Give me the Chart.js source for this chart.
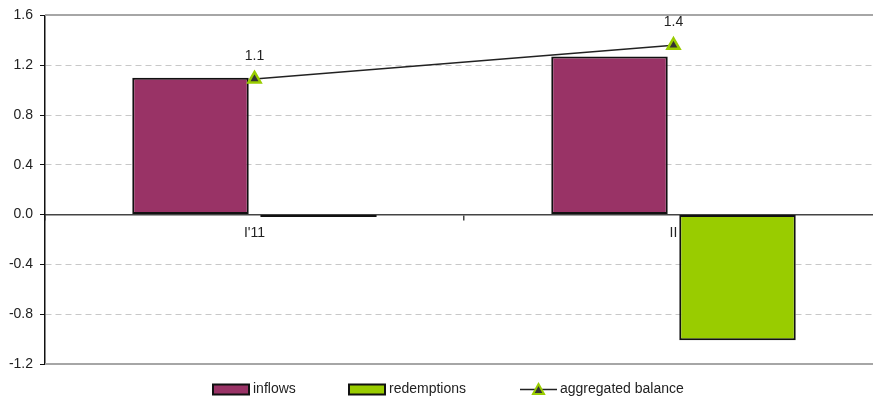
<!DOCTYPE html>
<html>
<head>
<meta charset="utf-8">
<script src="https://cdn.jsdelivr.net/npm/chart.js@4/dist/chart.umd.min.js"></script>
<style>
  html, body { margin: 0; padding: 0; background: #fff; overflow: hidden; }
  #wrap { position: relative; width: 873px; height: 403px; overflow: hidden; }
  #c { display: block; }
</style>
</head>
<body>
<div id="wrap"><canvas id="c" width="884" height="403"></canvas></div>
<script>
// Quarterly fund flows, billions
const categories = ["I'11", "II"];
const inflows = [1.10, 1.27];
const redemptions = [-0.02, -1.01];
const aggregatedBalance = [1.09, 1.36];
const yTicks = [1.6, 1.2, 0.8, 0.4, 0.0, -0.4, -0.8, -1.2];

const FONT = '"Liberation Sans", Arial, sans-serif';
const FONT_SIZE = 14;
const TEXT = '#222';
const INFLOW_COLOR = '#993366';
const REDEMPTION_COLOR = '#99CC00';

// Solid frame lines at the top and bottom of the value range
const frameLines = {
  id: 'frameLines',
  beforeDatasetsDraw(chart) {
    const { ctx, chartArea, scales } = chart;
    const y = scales.y;
    ctx.save();
    ctx.strokeStyle = '#a6a6a6';
    ctx.lineWidth = 2;
    [y.max, y.min].forEach(v => {
      const py = Math.round(y.getPixelForValue(v));
      ctx.beginPath();
      ctx.moveTo(chartArea.left, py);
      ctx.lineTo(chartArea.right, py);
      ctx.stroke();
    });
    ctx.restore();
  }
};

// Value labels above the balance markers
const balanceLabels = {
  id: 'balanceLabels',
  afterDatasetsDraw(chart) {
    const { ctx } = chart;
    const idx = chart.data.datasets.findIndex(d => d.type === 'line');
    const meta = chart.getDatasetMeta(idx);
    ctx.save();
    ctx.font = FONT_SIZE + 'px ' + FONT;
    ctx.fillStyle = TEXT;
    ctx.textAlign = 'center';
    ctx.textBaseline = 'middle';
    meta.data.forEach((pt, i) => {
      ctx.fillText(aggregatedBalance[i].toFixed(1), pt.x, pt.y - 23);
    });
    ctx.restore();
  }
};

// Legend row under the plot
const bottomLegend = {
  id: 'bottomLegend',
  afterDraw(chart) {
    const { ctx } = chart;
    const ds = chart.data.datasets;
    const cy = 389.5;
    const items = [
      { ds: ds.find(d => d.label === 'inflows'), x: 213, kind: 'box' },
      { ds: ds.find(d => d.label === 'redemptions'), x: 349, kind: 'box' },
      { ds: ds.find(d => d.label === 'aggregated balance'), x: 520, kind: 'line' }
    ];
    ctx.save();
    ctx.font = FONT_SIZE + 'px ' + FONT;
    ctx.textBaseline = 'middle';
    ctx.textAlign = 'left';
    items.forEach(it => {
      if (it.kind === 'box') {
        ctx.fillStyle = it.ds.backgroundColor;
        ctx.fillRect(it.x, cy - 5, 36, 10);
        ctx.strokeStyle = '#111';
        ctx.lineWidth = 2;
        ctx.strokeRect(it.x, cy - 5, 36, 10);
      } else {
        ctx.strokeStyle = it.ds.borderColor;
        ctx.lineWidth = 1.5;
        ctx.beginPath();
        ctx.moveTo(it.x, cy);
        ctx.lineTo(it.x + 37, cy);
        ctx.stroke();
        const mx = it.x + 18.5, r = 5.5;
        ctx.beginPath();
        ctx.moveTo(mx, cy - r);
        ctx.lineTo(mx + r, cy + r * 0.8);
        ctx.lineTo(mx - r, cy + r * 0.8);
        ctx.closePath();
        ctx.fillStyle = it.ds.pointBackgroundColor;
        ctx.fill();
        ctx.strokeStyle = it.ds.pointBorderColor;
        ctx.lineWidth = 2;
        ctx.stroke();
      }
      ctx.fillStyle = TEXT;
      ctx.fillText(it.ds.label, it.x + 40, cy);
    });
    ctx.restore();
  }
};

new Chart(document.getElementById('c'), {
  type: 'bar',
  data: {
    labels: categories,
    datasets: [
      {
        type: 'line',
        label: 'aggregated balance',
        data: aggregatedBalance,
        borderColor: '#222',
        borderWidth: 1.5,
        pointStyle: 'triangle',
        pointRadius: 7,
        pointBackgroundColor: '#333',
        pointBorderColor: REDEMPTION_COLOR,
        pointBorderWidth: 2.5,
        tension: 0,
        order: 0
      },
      {
        label: 'inflows',
        data: inflows,
        backgroundColor: INFLOW_COLOR,
        borderColor: '#111',
        borderWidth: 2,
        borderSkipped: false,
        categoryPercentage: 0.611,
        barPercentage: 0.91,
        order: 1
      },
      {
        label: 'redemptions',
        data: redemptions,
        backgroundColor: REDEMPTION_COLOR,
        borderColor: '#111',
        borderWidth: 2,
        borderSkipped: false,
        categoryPercentage: 0.611,
        barPercentage: 0.91,
        order: 1
      }
    ]
  },
  plugins: [frameLines, balanceLabels, bottomLegend],
  options: {
    responsive: false,
    maintainAspectRatio: false,
    animation: false,
    devicePixelRatio: 1,
    layout: { autoPadding: false, padding: { top: 14, bottom: 39, left: 0, right: 1 } },
    plugins: {
      legend: { display: false },
      tooltip: { enabled: false }
    },
    scales: {
      x: {
        position: { y: 0 },
        offset: true,
        grid: {
          display: true,
          drawOnChartArea: false,
          offset: true,
          tickLength: 5,
          tickColor: '#444',
          lineWidth: 1.5
        },
        border: { display: true, color: '#444', width: 1.5 },
        ticks: {
          padding: 5,
          color: TEXT,
          font: { family: FONT, size: FONT_SIZE },
          maxRotation: 0
        }
      },
      y: {
        min: -1.2,
        max: 1.6,
        afterBuildTicks(scale) {
          scale.ticks = yTicks.map(v => ({ value: v }));
        },
        afterFit(scale) { scale.width = 45; },
        grid: {
          color: ctx => {
            const v = ctx.tick ? ctx.tick.value : null;
            if (v === null || Math.abs(v - 1.6) < 1e-9 || Math.abs(v + 1.2) < 1e-9 || Math.abs(v) < 1e-9) return 'rgba(0,0,0,0)';
            return '#c8c8c8';
          },
          lineWidth: 1,
          tickLength: 5,
          tickColor: '#111',
          tickBorderDash: []
        },
        border: { display: true, color: '#111', width: 1.5, dash: [6, 4] },
        ticks: {
          padding: 7,
          color: TEXT,
          font: { family: FONT, size: FONT_SIZE },
          callback: v => Number(v).toFixed(1)
        }
      }
    }
  }
});
</script>
</body>
</html>
